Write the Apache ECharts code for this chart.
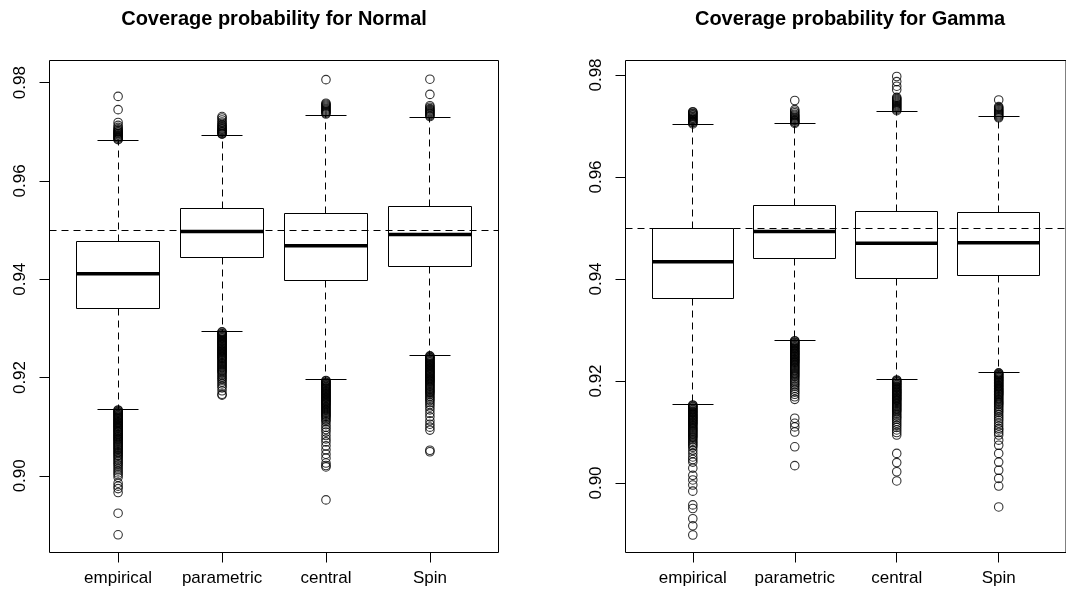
<!DOCTYPE html>
<html>
<head>
<meta charset="utf-8">
<script src="https://cdn.jsdelivr.net/npm/echarts@6/dist/echarts.min.js"></script>
<style>
  html, body { margin: 0; padding: 0; background: #fff; }
  #chart { width: 1066px; height: 600px; }
</style>
</head>
<body>
<div id="chart"></div>
<script>
// ---- data -------------------------------------------------------------
const categories = ['empirical', 'parametric', 'central', 'Spin'];
const yTicks = [0.90, 0.92, 0.94, 0.96, 0.98];
const nominal = 0.95;
const titles = ['Coverage probability for Normal', 'Coverage probability for Gamma'];

// five-number summaries: [lower whisker, Q1, median, Q3, upper whisker]
const normalStats = [
  [0.9135, 0.9341, 0.9411, 0.9477, 0.9682],
  [0.9294, 0.9444, 0.9497, 0.9544, 0.9693],
  [0.9196, 0.9398, 0.9468, 0.9533, 0.9734],
  [0.9245, 0.9426, 0.9491, 0.9548, 0.9730]
];
const gammaStats = [
  [0.9154, 0.9362, 0.9434, 0.9499, 0.9703],
  [0.9280, 0.9440, 0.9493, 0.9545, 0.9704],
  [0.9203, 0.9401, 0.9470, 0.9532, 0.9729],
  [0.9217, 0.9407, 0.9471, 0.9531, 0.9719]
];

// outlying replications, Normal
const nEmpHi = [0.9772, 0.9745, 0.9719, 0.9713, 0.9709, 0.9706, 0.9704, 0.9702, 0.9700, 0.9699, 0.9697, 0.9696,
  0.9694, 0.9693, 0.9691, 0.9690, 0.9688, 0.9687, 0.9685, 0.9684];
const nEmpLo = [0.9134, 0.9133, 0.9131, 0.9130, 0.9128, 0.9127, 0.9125, 0.9124, 0.9122, 0.9121, 0.9119, 0.9118,
  0.9116, 0.9115, 0.9113, 0.9112, 0.9110, 0.9109, 0.9107, 0.9106, 0.9104, 0.9103, 0.9101, 0.9100, 0.9098,
  0.9097, 0.9095, 0.9093, 0.9092, 0.9090, 0.9089, 0.9087, 0.9085, 0.9084, 0.9082, 0.9080, 0.9079, 0.9077,
  0.9075, 0.9074, 0.9072, 0.9070, 0.9068, 0.9066, 0.9064, 0.9062, 0.9060, 0.9058, 0.9056, 0.9054, 0.9052,
  0.9049, 0.9047, 0.9045, 0.9042, 0.9040, 0.9037, 0.9034, 0.9031, 0.9028, 0.9025, 0.9022, 0.9018, 0.9014,
  0.9010, 0.9006, 0.9002, 0.8997, 0.8985, 0.8979, 0.8974, 0.8966, 0.8924, 0.8880];
const nParHi = [0.9731, 0.9728, 0.9724, 0.9720, 0.9717, 0.9714, 0.9712, 0.9710, 0.9708, 0.9706, 0.9705, 0.9703,
  0.9702, 0.9700, 0.9699, 0.9697, 0.9696, 0.9695];
const nParLo = [0.9293, 0.9292, 0.9290, 0.9289, 0.9287, 0.9286, 0.9284, 0.9283, 0.9281, 0.9280, 0.9278, 0.9277,
  0.9275, 0.9274, 0.9272, 0.9271, 0.9269, 0.9268, 0.9266, 0.9265, 0.9263, 0.9262, 0.9260, 0.9259, 0.9257,
  0.9256, 0.9254, 0.9253, 0.9251, 0.9250, 0.9248, 0.9247, 0.9245, 0.9244, 0.9242, 0.9241, 0.9239, 0.9238,
  0.9236, 0.9234, 0.9232, 0.9230, 0.9228, 0.9226, 0.9224, 0.9222, 0.9220, 0.9218, 0.9216, 0.9214, 0.9212,
  0.9210, 0.9207, 0.9204, 0.9201, 0.9198, 0.9195, 0.9191, 0.9187, 0.9183, 0.9179, 0.9173, 0.9166, 0.9164];
const nCenHi = [0.9806, 0.9758, 0.9756, 0.9754, 0.9752, 0.9750, 0.9748, 0.9746, 0.9744, 0.9742, 0.9740, 0.9738, 0.9736];
const nCenLo = [0.9194, 0.9193, 0.9191, 0.9190, 0.9188, 0.9187, 0.9185, 0.9184, 0.9182, 0.9181, 0.9179, 0.9178,
  0.9176, 0.9175, 0.9173, 0.9172, 0.9170, 0.9169, 0.9167, 0.9166, 0.9164, 0.9163, 0.9161, 0.9160, 0.9158,
  0.9157, 0.9155, 0.9154, 0.9152, 0.9151, 0.9149, 0.9148, 0.9146, 0.9145, 0.9143, 0.9141, 0.9139, 0.9137,
  0.9135, 0.9133, 0.9131, 0.9129, 0.9127, 0.9125, 0.9123, 0.9121, 0.9119, 0.9116, 0.9113, 0.9110, 0.9104,
  0.9099, 0.9094, 0.9089, 0.9082, 0.9075, 0.9069, 0.9061, 0.9053, 0.9044, 0.9036, 0.9026, 0.9021, 0.9018, 0.8951];
const nSpinHi = [0.9807, 0.9776, 0.9753, 0.9750, 0.9747, 0.9745, 0.9743, 0.9741, 0.9739, 0.9737, 0.9735, 0.9733, 0.9731];
const nSpinLo = [0.9244, 0.9243, 0.9241, 0.9240, 0.9238, 0.9237, 0.9235, 0.9234, 0.9232, 0.9231, 0.9229, 0.9228,
  0.9226, 0.9225, 0.9223, 0.9222, 0.9220, 0.9219, 0.9217, 0.9216, 0.9214, 0.9213, 0.9211, 0.9210, 0.9208,
  0.9207, 0.9205, 0.9204, 0.9202, 0.9201, 0.9199, 0.9198, 0.9196, 0.9195, 0.9193, 0.9192, 0.9190, 0.9188,
  0.9186, 0.9184, 0.9182, 0.9180, 0.9178, 0.9176, 0.9174, 0.9172, 0.9170, 0.9168, 0.9165, 0.9162, 0.9159,
  0.9156, 0.9153, 0.9149, 0.9145, 0.9140, 0.9134, 0.9127, 0.9120, 0.9112, 0.9105, 0.9099, 0.9093, 0.9052, 0.9049];

// outlying replications, Gamma
const gEmpHi = [0.9728, 0.9727, 0.9725, 0.9724, 0.9722, 0.9721, 0.9719, 0.9718, 0.9716, 0.9715, 0.9713, 0.9712,
  0.9710, 0.9709, 0.9707, 0.9706, 0.9704];
const gEmpLo = [0.9153, 0.9152, 0.9150, 0.9149, 0.9147, 0.9146, 0.9144, 0.9143, 0.9141, 0.9140, 0.9138, 0.9137,
  0.9135, 0.9134, 0.9132, 0.9131, 0.9129, 0.9128, 0.9126, 0.9125, 0.9123, 0.9122, 0.9120, 0.9119, 0.9117,
  0.9116, 0.9114, 0.9112, 0.9110, 0.9108, 0.9106, 0.9104, 0.9102, 0.9100, 0.9098, 0.9096, 0.9094, 0.9092,
  0.9090, 0.9088, 0.9085, 0.9082, 0.9079, 0.9076, 0.9073, 0.9070, 0.9064, 0.9058, 0.9051, 0.9046, 0.9041,
  0.9029, 0.9015, 0.9006, 0.8996, 0.8984, 0.8957, 0.8950, 0.8930, 0.8916, 0.8898];
const gParHi = [0.9750, 0.9732, 0.9729, 0.9726, 0.9723, 0.9721, 0.9719, 0.9717, 0.9715, 0.9713, 0.9711, 0.9710,
  0.9708, 0.9707, 0.9705];
const gParLo = [0.9279, 0.9278, 0.9276, 0.9275, 0.9273, 0.9272, 0.9270, 0.9269, 0.9267, 0.9266, 0.9264, 0.9263,
  0.9261, 0.9260, 0.9258, 0.9257, 0.9255, 0.9254, 0.9252, 0.9251, 0.9249, 0.9248, 0.9246, 0.9245, 0.9243,
  0.9242, 0.9240, 0.9239, 0.9237, 0.9236, 0.9234, 0.9232, 0.9230, 0.9228, 0.9226, 0.9224, 0.9222, 0.9220,
  0.9218, 0.9216, 0.9214, 0.9212, 0.9210, 0.9208, 0.9205, 0.9202, 0.9199, 0.9196, 0.9193, 0.9190, 0.9186,
  0.9182, 0.9178, 0.9174, 0.9169, 0.9164, 0.9127, 0.9117, 0.9110, 0.9100, 0.9071, 0.9034];
const gCenHi = [0.9797, 0.9787, 0.9778, 0.9771, 0.9756, 0.9754, 0.9752, 0.9750, 0.9748, 0.9746, 0.9744, 0.9742,
  0.9740, 0.9738, 0.9736, 0.9734, 0.9732, 0.9730];
const gCenLo = [0.9202, 0.9201, 0.9199, 0.9198, 0.9196, 0.9195, 0.9193, 0.9192, 0.9190, 0.9189, 0.9187, 0.9186,
  0.9184, 0.9183, 0.9181, 0.9180, 0.9178, 0.9177, 0.9175, 0.9174, 0.9172, 0.9171, 0.9169, 0.9168, 0.9166,
  0.9165, 0.9163, 0.9162, 0.9160, 0.9158, 0.9156, 0.9154, 0.9152, 0.9150, 0.9148, 0.9146, 0.9144, 0.9142,
  0.9140, 0.9137, 0.9134, 0.9131, 0.9128, 0.9125, 0.9121, 0.9117, 0.9113, 0.9109, 0.9104, 0.9099, 0.9094,
  0.9058, 0.9040, 0.9022, 0.9004];
const gSpinHi = [0.9751, 0.9738, 0.9736, 0.9734, 0.9732, 0.9730, 0.9728, 0.9726, 0.9724, 0.9722, 0.9720, 0.9718, 0.9716];
const gSpinLo = [0.9216, 0.9215, 0.9213, 0.9212, 0.9210, 0.9209, 0.9207, 0.9206, 0.9204, 0.9203, 0.9201, 0.9200,
  0.9198, 0.9197, 0.9195, 0.9194, 0.9192, 0.9191, 0.9189, 0.9188, 0.9186, 0.9185, 0.9183, 0.9182, 0.9180,
  0.9179, 0.9177, 0.9176, 0.9174, 0.9173, 0.9171, 0.9169, 0.9167, 0.9165, 0.9163, 0.9161, 0.9159, 0.9157,
  0.9155, 0.9153, 0.9150, 0.9147, 0.9144, 0.9141, 0.9138, 0.9134, 0.9130, 0.9126, 0.9122, 0.9117, 0.9112,
  0.9107, 0.9104, 0.9099, 0.9094, 0.9084, 0.9074, 0.9058, 0.9041, 0.9025, 0.9009, 0.8994, 0.8953];

const normalOutliers = [nEmpHi.concat(nEmpLo), nParHi.concat(nParLo), nCenHi.concat(nCenLo), nSpinHi.concat(nSpinLo)];
const gammaOutliers = [gEmpHi.concat(gEmpLo), gParHi.concat(gParLo), gCenHi.concat(gCenLo), gSpinHi.concat(gSpinLo)];

// ---- drawing ----------------------------------------------------------
const FONT = '"Liberation Sans", Arial, Helvetica, sans-serif';
const panels = [
  { left: 49.5, yMin: 0.8844, yMax: 0.9845, stats: normalStats, outliers: normalOutliers, title: titles[0] },
  { left: 625.5, yMin: 0.88637, yMax: 0.98284, stats: gammaStats, outliers: gammaOutliers, title: titles[1] }
];
const PLOT_TOP = 60.5, PLOT_W = 449, PLOT_H = 492;
const catPos = categories.map((c, i) => i + 1);

const snap = v => Math.round(v - 0.5) + 0.5;
const DASH = [7, 5];

// R-style box: open rectangle, thick median, dashed whiskers, half-width staples
function renderBox(params, api) {
  const x = api.value(0);
  const pt = k => api.coord([x, api.value(k)]);
  const lo = pt(1), q1 = pt(2), med = pt(3), q3 = pt(4), hi = pt(5);
  const unit = api.size([1, 0])[0];
  const half = unit * 0.4, capHalf = unit * 0.2;
  const cx = snap(lo[0]);
  const l = snap(lo[0] - half), r = snap(lo[0] + half);
  const yLo = snap(lo[1]), yQ1 = snap(q1[1]), yQ3 = snap(q3[1]), yHi = snap(hi[1]);
  const solid = { stroke: '#000', lineWidth: 1, fill: 'none' };
  const dashed = { stroke: '#000', lineWidth: 1, lineDash: DASH, fill: 'none' };
  return {
    type: 'group',
    children: [
      { type: 'line', shape: { x1: cx, y1: yQ3, x2: cx, y2: yHi }, style: dashed },
      { type: 'line', shape: { x1: cx, y1: yQ1, x2: cx, y2: yLo }, style: dashed },
      { type: 'line', shape: { x1: snap(lo[0] - capHalf), y1: yHi, x2: snap(lo[0] + capHalf), y2: yHi }, style: solid },
      { type: 'line', shape: { x1: snap(lo[0] - capHalf), y1: yLo, x2: snap(lo[0] + capHalf), y2: yLo }, style: solid },
      { type: 'rect', shape: { x: l, y: yQ3, width: r - l, height: yQ1 - yQ3 }, style: solid },
      { type: 'line', shape: { x1: l, y1: med[1], x2: r, y2: med[1] }, style: { stroke: '#000', lineWidth: 3.5 } }
    ]
  };
}

const grid = [], xAxis = [], yAxis = [], series = [], graphic = [];
panels.forEach((p, i) => {
  grid.push({
    left: p.left, top: PLOT_TOP, width: PLOT_W, height: PLOT_H,
    show: true, borderColor: '#000', borderWidth: 1, backgroundColor: 'transparent'
  });
  xAxis.push({
    type: 'value', gridIndex: i, min: 0.34, max: 4.66,
    axisLine: { show: false }, splitLine: { show: false },
    axisTick: { show: true, length: 10, customValues: catPos, lineStyle: { color: '#000', width: 1 } },
    axisLabel: {
      customValues: catPos, margin: 17, color: '#000', fontSize: 17, fontFamily: FONT,
      formatter: v => categories[Math.round(v) - 1]
    }
  });
  yAxis.push({
    type: 'value', gridIndex: i, min: p.yMin, max: p.yMax,
    axisLine: { show: false }, splitLine: { show: false },
    axisTick: { show: true, length: 10, customValues: yTicks, lineStyle: { color: '#000', width: 1 } },
    axisLabel: {
      customValues: yTicks, rotate: 90, margin: 21, color: '#000', fontSize: 17, fontFamily: FONT,
      formatter: v => v.toFixed(2)
    }
  });
  series.push({
    type: 'custom', xAxisIndex: i, yAxisIndex: i, silent: true,
    data: p.stats.map((s, k) => [catPos[k]].concat(s)),
    renderItem: renderBox,
    markLine: {
      silent: true, symbol: 'none', label: { show: false },
      lineStyle: { color: '#000', width: 1, type: DASH },
      data: [{ yAxis: nominal }]
    },
    z: 2
  });
  const pts = [];
  p.outliers.forEach((vals, k) => vals.forEach(v => pts.push([catPos[k], v])));
  series.push({
    type: 'scatter', xAxisIndex: i, yAxisIndex: i, silent: true,
    symbol: 'circle', symbolSize: 8.5,
    itemStyle: { color: 'rgba(0,0,0,0)', borderColor: '#000', borderWidth: 1.1 },
    data: pts, z: 3
  });
  graphic.push({
    type: 'text', x: p.left + PLOT_W / 2, y: 19,
    style: {
      text: p.title, font: 'bold 20px ' + FONT, fill: '#000',
      align: 'center', verticalAlign: 'middle', textAlign: 'center', textVerticalAlign: 'middle'
    }
  });
});

const chart = echarts.init(document.getElementById('chart'), null, { renderer: 'canvas' });
chart.setOption({
  backgroundColor: '#fff',
  animation: false,
  grid, xAxis, yAxis, series, graphic
});
</script>
</body>
</html>
